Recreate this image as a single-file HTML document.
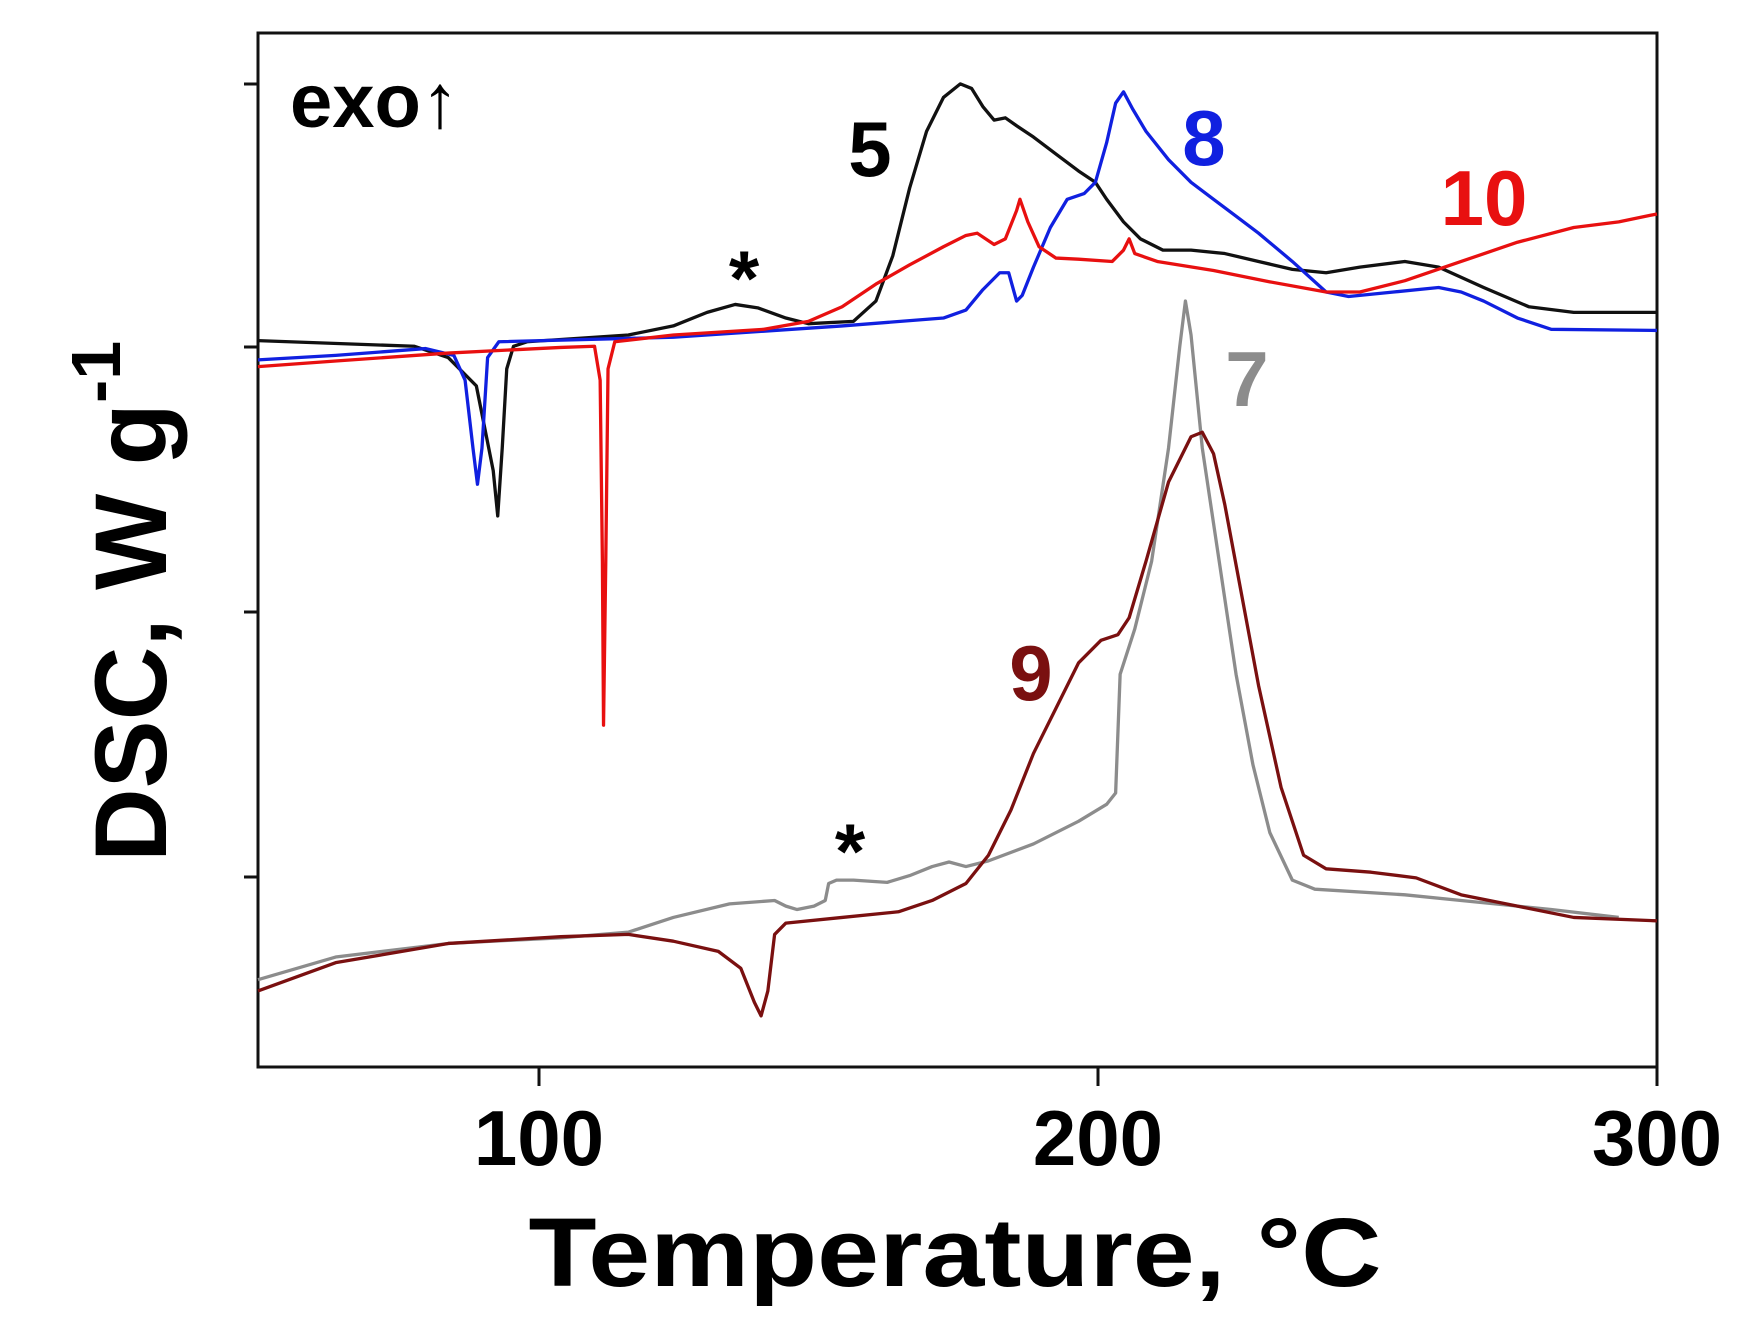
<!DOCTYPE html>
<html><head><meta charset="utf-8"><style>body{margin:0;background:#fff}svg{display:block}</style></head>
<body>
<svg width="1763" height="1338" viewBox="0 0 1763 1338" xmlns="http://www.w3.org/2000/svg" font-family="Liberation Sans, Arial, sans-serif" font-weight="bold">
<rect width="1763" height="1338" fill="#fff"/>
<rect x="258" y="33" width="1399" height="1034" fill="none" stroke="#111" stroke-width="3"/>
<g stroke="#111" stroke-width="3">
<line x1="244" y1="84" x2="258" y2="84"/><line x1="244" y1="347" x2="258" y2="347"/>
<line x1="244" y1="612" x2="258" y2="612"/><line x1="244" y1="877" x2="258" y2="877"/>
<line x1="539" y1="1067" x2="539" y2="1086"/><line x1="1098" y1="1067" x2="1098" y2="1086"/><line x1="1657" y1="1067" x2="1657" y2="1086"/>
</g>
<g font-size="78" text-anchor="middle" fill="#000">
<text x="539" y="1165">100</text><text x="1098" y="1165">200</text><text x="1657" y="1165">300</text>
</g>
<text x="955" y="1286" font-size="97" text-anchor="middle" textLength="853" lengthAdjust="spacingAndGlyphs">Temperature, °C</text>
<text transform="translate(166,862) rotate(-90)" font-size="102">DSC, W g<tspan font-size="70" dy="-46">-1</tspan></text>
<text x="290" y="127" font-size="76">exo↑</text>
<g transform="translate(258,33) scale(1.1255,1.131) translate(-231,-33)" fill="none" stroke-width="3.3" stroke-linejoin="round">
<polyline vector-effect="non-scaling-stroke" stroke="#111" points="231,305 370,310 400,320 425,345 440,420 444,460 448,400 452,330 458,310 470,306 560,300 600,292 630,280 655,273 675,276 700,285 720,290 760,288 780,270 795,230 810,170 825,120 840,90 855,78 865,82 875,98 885,110 895,108 905,115 920,125 940,140 960,155 975,165 985,180 1000,200 1015,215 1035,225 1060,225 1090,228 1120,235 1150,242 1180,245 1210,240 1250,235 1280,240 1320,258 1360,275 1400,280 1474,280"/>
<polyline vector-effect="non-scaling-stroke" stroke="#1020e0" points="231,322 300,318 380,312 405,318 415,340 422,400 426,432 430,400 435,320 445,306 600,302 750,292 840,285 860,278 875,260 890,245 898,245 905,270 910,265 920,240 935,205 950,180 965,175 975,165 985,130 993,95 1000,85 1008,100 1020,120 1040,145 1060,165 1080,180 1100,195 1120,210 1150,235 1180,262 1200,266 1240,262 1280,258 1300,262 1320,270 1350,285 1380,295 1474,296"/>
<polyline vector-effect="non-scaling-stroke" stroke="#e81010" points="231,328 300,323 400,316 500,311 530,310 535,340 537,500 538,645 540,500 542,330 548,306 600,300 680,295 720,288 750,275 780,255 810,238 840,222 860,212 870,210 885,220 895,215 905,190 908,180 915,200 925,222 940,232 960,233 990,235 1000,225 1005,215 1010,228 1030,235 1080,243 1130,253 1180,262 1210,262 1250,252 1300,235 1350,218 1400,205 1440,200 1474,193"/>
<polyline vector-effect="non-scaling-stroke" stroke="#8c8c8c" points="231,870 300,850 400,838 500,833 560,828 600,815 650,803 690,800 700,805 710,808 725,805 735,800 738,785 745,782 760,782 790,784 810,778 830,770 845,766 860,770 880,765 920,750 960,730 985,715 993,705 997,600 1010,560 1025,500 1040,400 1050,310 1055,270 1060,300 1070,400 1085,500 1100,600 1115,680 1130,740 1150,782 1170,790 1250,795 1300,800 1380,808 1440,815"/>
<polyline vector-effect="non-scaling-stroke" stroke="#7a1010" points="231,880 300,855 400,838 500,832 560,830 600,836 640,845 660,860 672,890 678,902 684,880 690,830 700,820 750,815 800,810 830,800 860,785 880,760 900,720 920,670 940,630 960,590 980,570 995,565 1005,550 1020,500 1040,430 1060,390 1070,386 1080,405 1090,450 1105,530 1120,610 1140,700 1160,760 1180,772 1220,775 1260,780 1300,795 1350,805 1400,815 1474,818"/>
</g>
<g font-size="78" text-anchor="middle">
<text x="870" y="176" fill="#000">5</text>
<text x="1204" y="165" fill="#1020e0">8</text>
<text x="1484" y="225" fill="#e81010">10</text>
<text x="1247" y="406" fill="#8c8c8c">7</text>
<text x="1031" y="700" fill="#7a1010">9</text>
<text x="744" y="305" fill="#000">*</text>
<text x="850" y="878" fill="#000">*</text>
</g>
</svg>
</body></html>
